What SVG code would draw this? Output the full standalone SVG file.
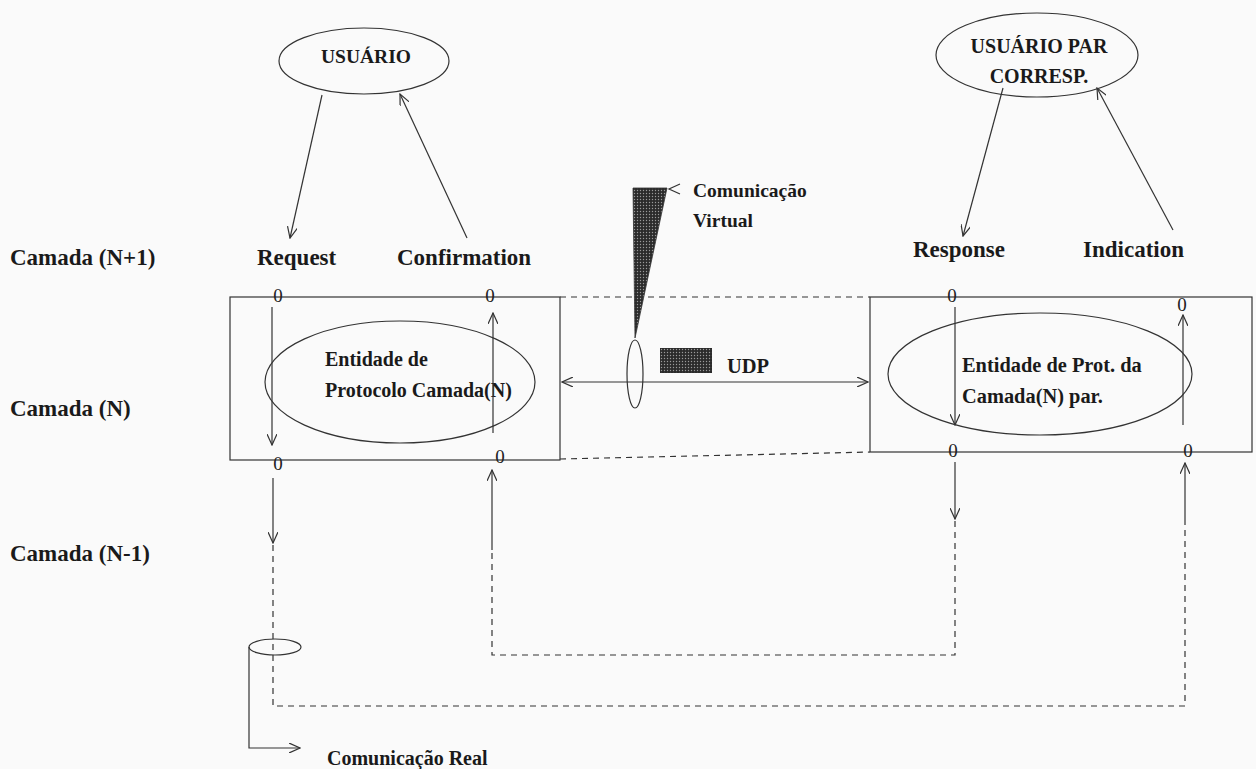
<svg xmlns="http://www.w3.org/2000/svg" width="1256" height="769" viewBox="0 0 1256 769">
<style>
  .bg{fill:#fafafa}
  .t{font-family:"Liberation Serif","Times New Roman",serif;font-weight:bold;fill:#1a1a1a}
  .m{font-family:"Liberation Serif","Times New Roman",serif;font-size:19px;fill:#222}
  .ln{stroke:#333;stroke-width:1.2;fill:none}
  .ds{stroke:#333;stroke-width:1.2;fill:none;stroke-dasharray:6 5}
  .sh{stroke:#333;stroke-width:1.2;fill:none}
</style>
<defs>
  <marker id="ah" viewBox="0 0 12 10" refX="11" refY="5" markerWidth="12" markerHeight="10" markerUnits="userSpaceOnUse" orient="auto-start-reverse">
    <path d="M0,0 L11,5 L0,10" fill="none" stroke="#333" stroke-width="1.2"/>
  </marker>
  <pattern id="dots" width="3" height="3" patternUnits="userSpaceOnUse">
    <rect width="3" height="3" fill="#2b2b2b"/>
    <circle cx="1.5" cy="1.5" r="0.7" fill="#9a9a9a"/>
  </pattern>
</defs>
<rect class="bg" width="1256" height="769"/>

<g id="layer-labels">
  <text class="t" x="10" y="265" font-size="23">Camada (N+1)</text>
  <text class="t" x="10" y="416" font-size="23">Camada (N)</text>
  <text class="t" x="10" y="561" font-size="23">Camada (N-1)</text>
</g>

<g id="usuario">
  <ellipse class="sh" cx="364" cy="61" rx="85" ry="33"/>
  <text class="t" x="366" y="63" font-size="19.5" text-anchor="middle">USUÁRIO</text>
</g>

<g id="usuario-par">
  <ellipse class="sh" cx="1037" cy="55" rx="101" ry="42"/>
  <text class="t" x="1039" y="53" font-size="20" text-anchor="middle">USUÁRIO PAR</text>
  <text class="t" x="1039" y="83" font-size="20" text-anchor="middle">CORRESP.</text>
</g>

<g id="primitives">
  <text class="t" x="257" y="265" font-size="23">Request</text>
  <text class="t" x="397" y="265" font-size="23">Confirmation</text>
  <text class="t" x="913" y="257" font-size="23">Response</text>
  <text class="t" x="1083" y="257" font-size="23">Indication</text>
</g>

<g id="entidade-n">
  <rect class="sh" x="230" y="297" width="330" height="163"/>
  <ellipse class="sh" cx="400" cy="382" rx="135" ry="61"/>
  <text class="t" x="325" y="366" font-size="20">Entidade de</text>
  <text class="t" x="325" y="397" font-size="20">Protocolo Camada(N)</text>
</g>

<g id="entidade-par">
  <rect class="sh" x="870" y="297" width="382" height="155"/>
  <ellipse class="sh" cx="1040" cy="374" rx="152" ry="61"/>
  <text class="t" x="962" y="372" font-size="20.4">Entidade de Prot. da</text>
  <text class="t" x="962" y="403" font-size="20.4">Camada(N) par.</text>
</g>

<g id="sap-markers">
  <text class="m" x="278" y="302" text-anchor="middle">0</text>
  <text class="m" x="490" y="302" text-anchor="middle">0</text>
  <text class="m" x="278" y="470" text-anchor="middle">0</text>
  <text class="m" x="500" y="463" text-anchor="middle">0</text>
  <text class="m" x="952" y="302" text-anchor="middle">0</text>
  <text class="m" x="1182" y="311" text-anchor="middle">0</text>
  <text class="m" x="953" y="457" text-anchor="middle">0</text>
  <text class="m" x="1188" y="457" text-anchor="middle">0</text>
</g>

<g id="comunicacao-virtual">
  <polygon points="633,188 667,188 635,338" fill="url(#dots)" stroke="#333" stroke-width="0.8"/>
  <polyline class="ln" points="680,184 669,189 680,194"/>
  <text class="t" x="693" y="197" font-size="19.5">Comunicação</text>
  <text class="t" x="693" y="227" font-size="19.5">Virtual</text>
  <ellipse class="sh" cx="635" cy="374" rx="8" ry="34"/>
</g>

<g id="udp">
  <rect x="660" y="348" width="52" height="25" fill="url(#dots)"/>
  <text class="t" x="727" y="373" font-size="20.5">UDP</text>
</g>

<g id="comunicacao-real">
  <ellipse class="sh" cx="275" cy="647" rx="26" ry="8"/>
  <polyline class="ln" points="249,647 249,748 300,748" marker-end="url(#ah)"/>
  <text class="t" x="327" y="765" font-size="20">Comunicação Real</text>
</g>

<g id="connectors">
  <line class="ln" x1="322" y1="95" x2="290" y2="238" marker-end="url(#ah)"/>
  <line class="ln" x1="467" y1="238" x2="400" y2="94" marker-end="url(#ah)"/>
  <line class="ln" x1="1003" y1="88" x2="963" y2="236" marker-end="url(#ah)"/>
  <line class="ln" x1="1173" y1="230" x2="1097" y2="88" marker-end="url(#ah)"/>
  <line class="ln" x1="272" y1="307" x2="272" y2="445" marker-end="url(#ah)"/>
  <line class="ln" x1="493" y1="433" x2="493" y2="313" marker-end="url(#ah)"/>
  <line class="ln" x1="955" y1="307" x2="955" y2="425" marker-end="url(#ah)"/>
  <line class="ln" x1="1183" y1="425" x2="1183" y2="315" marker-end="url(#ah)"/>
  <line class="ds" x1="560" y1="297" x2="870" y2="297"/>
  <line class="ds" x1="560" y1="459" x2="870" y2="452"/>
  <line class="ln" x1="562" y1="382" x2="868" y2="382" marker-start="url(#ah)" marker-end="url(#ah)"/>
  <line class="ln" x1="273" y1="478" x2="273" y2="543" marker-end="url(#ah)"/>
  <polyline class="ds" points="273,545 273,706 1185,706 1185,520"/>
  <line class="ln" x1="1185" y1="520" x2="1185" y2="463" marker-end="url(#ah)"/>
  <line class="ln" x1="955" y1="462" x2="955" y2="519" marker-end="url(#ah)"/>
  <polyline class="ds" points="955,521 955,655 492,655 492,550"/>
  <line class="ln" x1="492" y1="550" x2="492" y2="470" marker-end="url(#ah)"/>
</g>
</svg>
